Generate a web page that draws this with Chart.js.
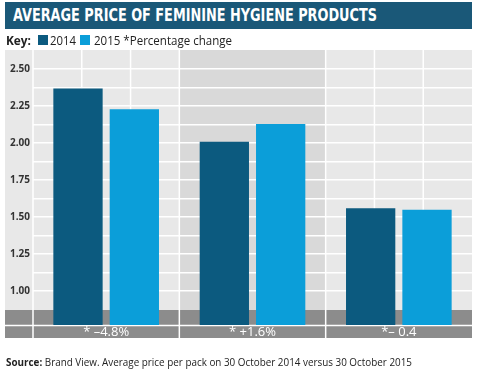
<!DOCTYPE html>
<html>
<head>
<meta charset="utf-8">
<script src="https://cdn.jsdelivr.net/npm/chart.js@4/dist/chart.umd.min.js"></script>
<style>
  html, body { margin: 0; padding: 0; background: #fff; }
  #wrap { position: relative; width: 480px; height: 380px; overflow: hidden; }
  #c { position: absolute; left: 0; top: 0; }
  .abs { position: absolute; white-space: nowrap; }
  #titlebar { left: 5px; top: 2px; width: 467px; height: 27px; background: #1a5878; }
  #title { left: 13px; top: 5px; color: #fff; font: bold 17px "DejaVu Sans Condensed", "DejaVu Sans", sans-serif; line-height: 20px; transform-origin: left center; }
  .key { font: 13px "Open Sans", sans-serif; color: #222; line-height: 16px; top: 32px; transform-origin: left center; }
  .sw { position: absolute; width: 10px; height: 10px; top: 35px; }
  #source { left: 6px; top: 354px; font: 11px "Open Sans", sans-serif; color: #222; line-height: 15px; transform-origin: left center; }
</style>
</head>
<body>
<div id="wrap">
  <canvas id="c" width="480" height="380"></canvas>
  <div id="titlebar" class="abs"></div>
  <div id="title" class="abs"></div>
  <div id="keyLabel" class="abs key" style="left:6px;font-weight:bold;">Key:</div>
  <div id="sw0" class="sw"></div>
  <div id="k0" class="abs key"></div>
  <div id="sw1" class="sw"></div>
  <div id="k1" class="abs key"></div>
  <div id="source" class="abs"><b>Source:</b> Brand View. Average price per pack on 30 October 2014 versus 30 October 2015</div>
</div>
<script>
// ---- data ----
const titleText = 'AVERAGE PRICE OF FEMININE HYGIENE PRODUCTS';
const categories = ['Tampons', 'Sanitary towels', 'Liners'];
const changes = ['* \u20134.8%', '* +1.6%', '*\u2013 0.4'];
const seriesNames = ['2014', '2015'];
const values2014 = [2.37, 2.01, 1.56];
const values2015 = [2.23, 2.13, 1.55];
const yTickLabels = ['1.00', '1.25', '1.50', '1.75', '2.00', '2.25', '2.50'];
const keyNote = '*Percentage change';

const colors = ['#0c5a7f', '#0b9ed9'];

// ---- HTML text parts ----
function fit(el, w) {
  el.style.transform = 'none';
  const cw = el.getBoundingClientRect().width;
  el.style.transform = 'scaleX(' + (w / cw) + ')';
}
const t = document.getElementById('title');
t.textContent = titleText;
fit(t, 364);
document.getElementById('sw0').style.cssText += 'left:38px;background:' + colors[0];
document.getElementById('sw1').style.cssText += 'left:80px;background:' + colors[1];
const k0 = document.getElementById('k0'); k0.textContent = seriesNames[0]; k0.style.left = '50px';
const k1 = document.getElementById('k1'); k1.textContent = seriesNames[1] + ' ' + keyNote; k1.style.left = '94px';
fit(document.getElementById('keyLabel'), 25);
fit(k0, 26);
fit(k1, 138);
fit(document.getElementById('source'), 406);

// ---- chart ----
const yMin = 0.77, yMax = 2.63;
const bgPlugin = {
  id: 'bg',
  beforeDraw(chart) {
    const ctx = chart.ctx, a = chart.chartArea;
    const n = categories.length;
    const step = (a.right - a.left) / n;
    const bandTop = a.bottom - 15, bandBot = a.bottom + 13;
    ctx.save();
    ctx.fillStyle = '#e8e8e8';
    ctx.fillRect(5, a.top, a.left - 5, bandTop - a.top);
    for (let i = 0; i < n; i++) {
      ctx.fillStyle = i === 1 ? '#d9d9d9' : '#e8e8e8';
      ctx.fillRect(a.left + i * step, a.top, step, bandTop - a.top);
    }
    ctx.fillStyle = '#8c8c8c';
    ctx.fillRect(5, bandTop, a.right - 5, bandBot - bandTop);
    ctx.strokeStyle = '#ffffff';
    ctx.lineWidth = 1.5;
    ctx.beginPath();
    for (let i = 0; i < n; i++) {
      if (i !== 1) {
        for (let k = 1; k < 3; k++) {
          const xx = a.left + i * step + k * step / 3;
          ctx.moveTo(xx, a.top); ctx.lineTo(xx, bandTop);
        }
      }
    }
    for (let i = 0; i < n; i++) {
      const xx = a.left + i * step;
      ctx.moveTo(xx, a.top); ctx.lineTo(xx, bandBot);
    }
    ctx.moveTo(5, a.bottom + 0.5); ctx.lineTo(a.right, a.bottom + 0.5);
    ctx.stroke();
    ctx.restore();
  }
};

new Chart(document.getElementById('c'), {
  type: 'bar',
  data: {
    labels: categories.map((c, i) => [c, changes[i]]),
    datasets: [
      { label: seriesNames[0], data: values2014, backgroundColor: colors[0] },
      { label: seriesNames[1], data: values2015, backgroundColor: colors[1] }
    ]
  },
  options: {
    responsive: false,
    animation: false,
    devicePixelRatio: 1,
    layout: { padding: { left: 5, right: 8, top: 50, bottom: 42 } },
    datasets: { bar: { categoryPercentage: 0.77, barPercentage: 0.875 } },
    plugins: { legend: { display: false }, tooltip: { enabled: false } },
    scales: {
      x: {
        grid: { display: false, drawTicks: false },
        border: { display: false },
        ticks: {
          color: '#ffffff',
          padding: -16,
          font: { family: 'Open Sans', size: 13, lineHeight: 1.2 },
          maxRotation: 0,
          autoSkip: false
        },
        afterFit(s) { s.height = 13; }
      },
      y: {
        min: yMin,
        max: yMax,
        border: { display: false },
        grid: { color: '#ffffff', lineWidth: 1.5, drawTicks: false },
        afterBuildTicks(s) {
          const vals = [];
          yTickLabels.forEach((l, i) => {
            const v = parseFloat(l);
            vals.push(v);
            if (i < yTickLabels.length - 1) vals.push(v + 0.125);
          });
          s.ticks = vals.map(v => ({ value: v }));
        },
        ticks: {
          color: '#333333',
          padding: 3,
          font: { family: 'Open Sans', size: 10, weight: 'bold' },
          callback(v) {
            const l = yTickLabels.find(s => Math.abs(parseFloat(s) - v) < 1e-6);
            return l || '';
          }
        },
        afterFit(s) { s.width = 28; }
      }
    }
  },
  plugins: [bgPlugin]
});
</script>
</body>
</html>
